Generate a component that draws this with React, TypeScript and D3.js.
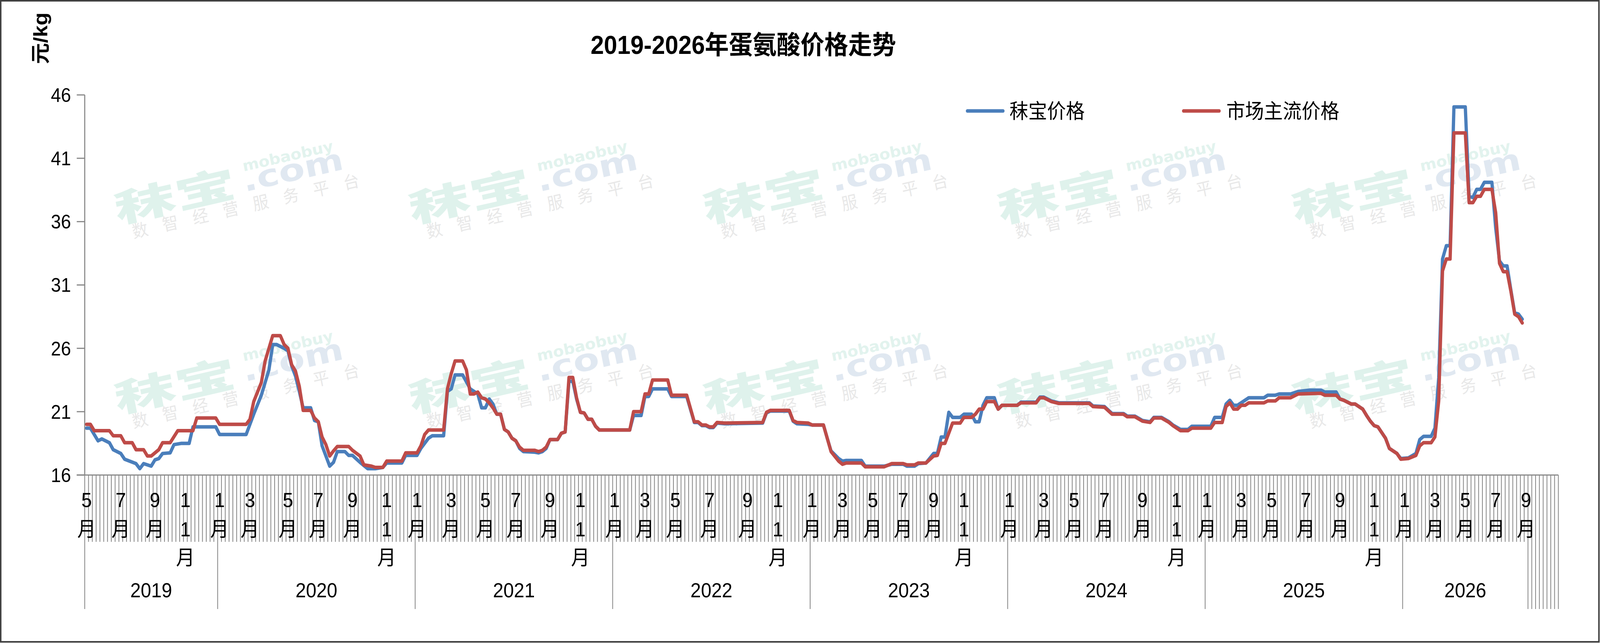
import React from 'react';
import * as d3 from 'd3';

// weekly categories grouped by year (multi-level category axis)
const yearGroups = [
  { year: '2019', weeks: 35 },
  { year: '2020', weeks: 52 },
  { year: '2021', weeks: 52 },
  { year: '2022', weeks: 52 },
  { year: '2023', weeks: 52 },
  { year: '2024', weeks: 52 },
  { year: '2025', weeks: 52 },
  { year: '2026', weeks: 33 },
];
const blankWeeks = 8;

// month label -> week index where it is shown
const monthLabels: [number, string][] = [
  [0, '5'], [9, '7'], [18, '9'], [26, '11'],
  [35, '1'], [43, '3'], [53, '5'], [61, '7'], [70, '9'], [79, '11'],
  [87, '1'], [96, '3'], [105, '5'], [113, '7'], [122, '9'], [130, '11'],
  [139, '1'], [147, '3'], [155, '5'], [164, '7'], [174, '9'], [182, '11'],
  [191, '1'], [199, '3'], [207, '5'], [215, '7'], [223, '9'], [231, '11'],
  [243, '1'], [252, '3'], [260, '5'], [268, '7'], [278, '9'], [287, '11'],
  [295, '1'], [304, '3'], [312, '5'], [321, '7'], [330, '9'], [339, '11'],
  [347, '1'], [355, '3'], [363, '5'], [371, '7'], [379, '9'],
];

const yTicks = [16, 21, 26, 31, 36, 41, 46];

// [week index, price]
const mobaoPrice: [number, number][] = [
  [0, 19.7], [1, 19.7], [3, 18.7], [4, 18.85], [6, 18.55], [7, 18.0], [9, 17.7], [10, 17.25], [13, 16.9], [14, 16.5],
  [15, 16.9], [17, 16.7], [18, 17.2], [19, 17.3], [20, 17.7], [22, 17.75], [23, 18.4], [25, 18.5], [27, 18.5], [28, 19.8],
  [34, 19.8], [35, 19.2], [42, 19.2], [44, 20.8], [46, 22.3], [48, 24.3], [49, 26.3], [50, 26.3], [52, 26.0], [53, 25.8],
  [54, 24.6], [55, 23.8], [56, 22.6], [57, 21.3], [59, 21.3], [60, 20.3], [61, 20.2], [62, 18.3], [64, 16.7], [65, 17.0],
  [66, 17.85], [68, 17.85], [69, 17.55], [70, 17.55], [72, 17.0], [74, 16.5], [76, 16.5], [78, 16.6], [79, 16.95], [83, 16.95],
  [84, 17.55], [87, 17.55], [88, 18.1], [90, 18.9], [91, 19.1], [94, 19.1],
  [95, 22.6], [96, 22.8], [97, 23.9], [99, 23.9], [101, 22.8], [103, 22.4], [104, 21.3], [105, 21.3], [106, 22.0], [107, 21.6],
  [108, 20.8], [109, 20.8], [110, 19.6], [111, 19.4], [112, 18.9], [113, 18.7], [114, 18.1], [115, 17.85], [118, 17.8], [119, 17.75],
  [120, 17.85], [121, 18.1], [122, 18.8], [124, 18.8], [125, 19.3], [126, 19.4], [127, 23.4], [128, 23.4], [129, 22.0], [130, 20.95],
  [131, 20.9], [132, 20.4], [133, 20.4], [134, 19.85], [135, 19.55], [143, 19.55], [144, 20.7], [146, 20.7], [147, 22.2], [148, 22.2],
  [149, 22.8], [153, 22.8], [154, 22.2], [158, 22.2], [160, 20.15], [161, 20.15], [162, 19.9], [163, 19.9], [164, 19.75], [165, 19.75],
  [166, 20.1], [168, 20.05], [178, 20.1], [179, 20.9], [180, 21.05], [185, 21.05], [186, 20.25], [187, 20.05], [190, 20.0], [191, 19.95],
  [194, 19.95], [195, 18.9], [196, 17.9], [198, 17.3], [199, 17.1], [200, 17.15], [204, 17.15], [205, 16.7], [210, 16.7], [212, 16.85],
  [215, 16.85], [216, 16.7], [218, 16.7], [219, 16.9], [221, 16.95], [223, 17.7], [224, 17.7], [225, 19.0], [226, 19.0], [227, 20.95],
  [228, 20.55], [230, 20.55], [231, 20.8], [233, 20.8], [234, 20.2], [235, 20.2], [236, 21.5], [237, 22.1], [239, 22.1], [240, 21.2],
  [241, 21.5], [245, 21.5], [246, 21.75], [250, 21.75], [251, 22.15], [252, 22.15], [254, 21.85], [256, 21.7], [264, 21.7], [265, 21.45],
  [268, 21.4], [270, 20.85], [273, 20.85], [274, 20.65], [276, 20.65], [278, 20.3], [280, 20.2], [281, 20.55], [283, 20.55], [285, 20.2],
  [286, 19.95], [288, 19.6], [290, 19.6], [291, 19.85], [296, 19.85], [297, 20.55], [299, 20.55], [300, 21.6], [301, 21.9], [302, 21.5],
  [303, 21.5], [304, 21.7], [306, 22.1], [310, 22.1], [311, 22.3], [313, 22.3], [314, 22.4], [317, 22.4], [319, 22.6], [322, 22.7],
  [325, 22.7], [326, 22.55], [329, 22.55], [330, 22.0], [331, 21.9], [333, 21.6], [334, 21.6], [336, 21.2], [337, 20.7], [338, 20.25],
  [339, 19.9], [340, 19.8], [342, 18.9], [343, 18.1], [344, 17.9], [345, 17.7], [346, 17.3], [348, 17.35], [350, 17.7], [351, 18.8],
  [352, 19.05], [354, 19.05], [355, 19.7], [356, 23.7], [357, 33.05], [358, 34.1], [359, 34.1], [360, 45.05], [363, 45.05], [364, 38.0],
  [365, 37.9], [366, 38.55], [367, 38.55], [368, 39.1], [370, 39.1], [371, 35.5], [372, 32.9], [373, 32.5], [374, 32.5], [375, 30.6],
  [376, 28.8], [377, 28.7], [378, 28.3],
];

const marketPrice: [number, number][] = [
  [0, 20.0], [1, 20.0], [2, 19.5], [6, 19.5], [7, 19.1], [9, 19.1], [10, 18.55], [12, 18.55], [13, 18.0], [15, 18.0],
  [16, 17.5], [17, 17.5], [19, 18.0], [20, 18.55], [22, 18.55], [24, 19.5], [28, 19.5], [29, 20.5], [34, 20.5], [35, 20.0],
  [42, 20.0], [43, 20.4], [44, 21.8], [46, 23.3], [47, 25.0], [49, 27.0], [51, 27.0], [52, 26.3], [53, 26.0], [54, 24.7],
  [55, 24.2], [56, 23.0], [57, 21.1], [59, 21.1], [60, 20.5], [61, 20.2], [62, 19.0], [63, 18.4], [64, 17.5], [65, 17.9],
  [66, 18.25], [69, 18.25], [70, 17.95], [72, 17.5], [73, 16.8], [75, 16.7], [76, 16.6], [78, 16.6], [79, 17.1], [83, 17.1],
  [84, 17.75], [87, 17.75], [88, 18.3], [89, 19.2], [90, 19.55], [94, 19.55],
  [95, 22.8], [96, 24.0], [97, 25.0], [99, 25.0], [100, 24.3], [101, 22.4], [102, 22.4], [103, 22.55], [104, 22.1], [105, 22.0],
  [106, 21.7], [107, 21.3], [108, 20.8], [109, 20.8], [110, 19.6], [111, 19.4], [112, 18.9], [113, 18.7], [114, 18.2], [115, 17.95],
  [118, 17.95], [119, 17.85], [120, 17.95], [121, 18.2], [122, 18.8], [124, 18.8], [125, 19.3], [126, 19.4], [127, 23.7], [128, 23.7],
  [129, 22.1], [130, 20.95], [131, 20.9], [132, 20.4], [133, 20.4], [134, 19.85], [135, 19.55], [143, 19.55], [144, 21.0], [146, 21.0],
  [147, 22.4], [148, 22.4], [149, 23.5], [153, 23.5], [154, 22.3], [158, 22.3], [160, 20.2], [161, 20.2], [162, 19.95], [163, 19.95],
  [164, 19.8], [165, 19.8], [166, 20.15], [168, 20.1], [178, 20.15], [179, 20.95], [180, 21.1], [185, 21.1], [186, 20.3], [187, 20.15],
  [190, 20.1], [191, 19.95], [194, 19.95], [195, 18.9], [196, 17.85], [198, 17.1], [199, 16.85], [200, 16.95], [204, 16.95], [205, 16.65],
  [210, 16.65], [212, 16.9], [215, 16.9], [216, 16.8], [218, 16.8], [219, 16.95], [221, 16.95], [223, 17.5], [224, 17.55], [225, 18.5],
  [226, 18.5], [228, 20.1], [230, 20.1], [231, 20.55], [233, 20.55], [234, 20.8], [235, 21.2], [236, 21.2], [237, 21.8], [239, 21.8],
  [240, 21.2], [241, 21.5], [245, 21.5], [246, 21.7], [250, 21.7], [251, 22.1], [252, 22.1], [254, 21.8], [256, 21.65], [264, 21.65],
  [265, 21.4], [268, 21.35], [270, 20.8], [273, 20.8], [274, 20.6], [276, 20.6], [278, 20.25], [280, 20.15], [281, 20.5], [283, 20.5],
  [285, 20.15], [286, 19.9], [288, 19.5], [290, 19.5], [291, 19.7], [296, 19.7], [297, 20.15], [299, 20.15], [300, 21.4], [301, 21.7],
  [302, 21.2], [303, 21.2], [304, 21.5], [305, 21.5], [306, 21.7], [310, 21.7], [311, 21.85], [313, 21.85], [314, 22.1], [317, 22.1],
  [319, 22.4], [325, 22.45], [326, 22.3], [329, 22.3], [330, 22.0], [331, 21.9], [333, 21.6], [334, 21.6], [336, 21.2], [337, 20.7],
  [338, 20.25], [339, 19.9], [340, 19.8], [342, 18.9], [343, 18.1], [344, 17.9], [345, 17.7], [346, 17.25], [348, 17.3], [350, 17.55],
  [351, 18.3], [352, 18.55], [354, 18.55], [355, 19.0], [356, 21.85], [357, 32.1], [358, 33.05], [359, 33.05], [360, 43.0], [363, 43.0],
  [364, 37.5], [365, 37.5], [366, 38.0], [367, 38.0], [368, 38.55], [370, 38.55], [371, 36.7], [372, 32.7], [373, 32.05], [374, 32.05],
  [375, 30.5], [376, 28.7], [377, 28.5], [378, 28.0],
];

const seriesNames = ['秣宝价格', '市场主流价格'];
const seriesColors = ['#4A7EBB', '#BE4B48'];

const FONT = "'Liberation Sans', Arial, 'Noto Sans CJK SC', sans-serif";
const AXIS = '#888888';

const W = 4419;
const H = 1646;
const plot = { left: 234, right: 4304, top: 243, bottom: 1216 };
const monthRowBottom = 1387;
const yearRowBottom = 1559;

// watermark grid
const wmCols = [325, 1138, 1951, 2764, 3577];
const wmRows = [572, 1058];

const Watermark: React.FC<{ x: number; y: number }> = ({ x, y }) => (
  <g transform={`translate(${x},${y}) rotate(-12)`} style={{ fontFamily: "'Noto Sans CJK SC', 'DejaVu Sans', sans-serif" }}>
    <text x={0} y={0} fontSize={96} fontWeight={900} fill="#dff2ec" textLength={340} lengthAdjust="spacingAndGlyphs">秣宝</text>
    <text x={360} y={-6} fontSize={78} fontWeight={700} fill="#e0e8f1" textLength={283} lengthAdjust="spacingAndGlyphs"
      style={{ fontFamily: "'DejaVu Sans', sans-serif" }}>.com</text>
    <text x={368} y={-58} fontSize={38} fontWeight={700} fill="#e2f3ee" textLength={255} lengthAdjust="spacingAndGlyphs"
      style={{ fontFamily: "'DejaVu Sans', sans-serif" }}>mobaobuy</text>
    <text x={35} y={46} fontSize={44} fill="#e8e8e8" textLength={640} lengthAdjust="spacing">数智经营服务平台</text>
  </g>
);

export default function App() {
  const totalWeeks = d3.sum(yearGroups, (g) => g.weeks) + blankWeeks;
  const x = d3.scaleBand<number>().domain(d3.range(totalWeeks)).range([plot.left, plot.right]).paddingInner(0).paddingOuter(0);
  const bw = x.bandwidth();
  const cx = (i: number) => (x(i) as number) + bw / 2;
  const edge = (k: number) => (k < totalWeeks ? (x(k) as number) : plot.right);
  const y = d3.scaleLinear().domain([16, 46]).range([plot.bottom, plot.top]);

  const line = d3.line<[number, number]>().x((d) => cx(d[0])).y((d) => y(d[1]));

  // year group boundaries
  const starts: number[] = [];
  let acc = 0;
  yearGroups.forEach((g) => { starts.push(acc); acc += g.weeks; });
  const dataEnd = acc;

  const fs = 52;

  return (
    <svg viewBox={`0 0 ${W} ${H}`} preserveAspectRatio="none"
      style={{ position: 'fixed', left: 0, top: 0, width: '100vw', height: '100vh', display: 'block', background: '#fff' }}
      fontFamily={FONT}>
      <rect x={0} y={0} width={W} height={H} fill="#fff" />
      <rect x={2} y={2} width={W - 5} height={H - 5} fill="none" stroke="#404040" strokeWidth={4} />

      {/* title */}
      <text x={2053} y={138} textAnchor="middle" fontSize={66} fontWeight={700} fill="#000">2019-2026年蛋氨酸价格走势</text>

      {/* y axis title */}
      <text transform="translate(131,98) rotate(-90)" textAnchor="middle" fontSize={54} fontWeight={700} fill="#000">元/kg</text>

      {/* watermarks */}
      {wmRows.map((wy) => wmCols.map((wx) => <Watermark key={`${wx}-${wy}`} x={wx} y={wy} />))}

      {/* y axis */}
      <line x1={plot.left} x2={plot.left} y1={plot.top} y2={plot.bottom} stroke={AXIS} strokeWidth={3} />
      {yTicks.map((t) => (
        <g key={t}>
          <line x1={212} x2={plot.left} y1={y(t)} y2={y(t)} stroke={AXIS} strokeWidth={3} />
          <text x={196} y={y(t) + 18} textAnchor="end" fontSize={50} fill="#000">{t}</text>
        </g>
      ))}

      {/* x axis: week ticks */}
      <line x1={212} x2={plot.right} y1={plot.bottom} y2={plot.bottom} stroke={AXIS} strokeWidth={3} />
      {d3.range(totalWeeks + 1).map((k) => (
        <line key={k} x1={edge(k)} x2={edge(k)} y1={plot.bottom}
          y2={k >= dataEnd || starts.includes(k) ? yearRowBottom : monthRowBottom}
          stroke={AXIS} strokeWidth={2.2} />
      ))}

      {/* month labels, stacked vertically */}
      {monthLabels.map(([i, m]) => {
        const parts = m.length === 2 ? [m[0], m[1], '月'] : [m, '月'];
        const rows = [1279, 1354, 1427];
        return (
          <g key={`m${i}`}>
            {parts.map((p, j) => (
              <text key={j} x={cx(i)} y={rows[j] + fs * 0.36} textAnchor="middle" fontSize={fs} fill="#000">{p}</text>
            ))}
          </g>
        );
      })}

      {/* year labels */}
      {yearGroups.map((g, gi) => (
        <text key={g.year} x={(edge(starts[gi]) + edge(starts[gi] + g.weeks)) / 2} y={1510 + fs * 0.36}
          textAnchor="middle" fontSize={fs} fill="#000">{g.year}</text>
      ))}

      {/* series */}
      {[mobaoPrice, marketPrice].map((s, si) => (
        <path key={si} d={line(s) ?? ''} fill="none" stroke={seriesColors[si]} strokeWidth={9}
          strokeLinejoin="round" strokeLinecap="round" />
      ))}

      {/* legend */}
      {[{ x: 2672, tx: 2788 }, { x: 3269, tx: 3387 }].map((l, si) => (
        <g key={si}>
          <line x1={l.x} x2={l.x + 98} y1={284} y2={284} stroke={seriesColors[si]} strokeWidth={9} strokeLinecap="round" />
          <text x={l.tx} y={284 + 19} fontSize={52} fill="#000">{seriesNames[si]}</text>
        </g>
      ))}
    </svg>
  );
}
